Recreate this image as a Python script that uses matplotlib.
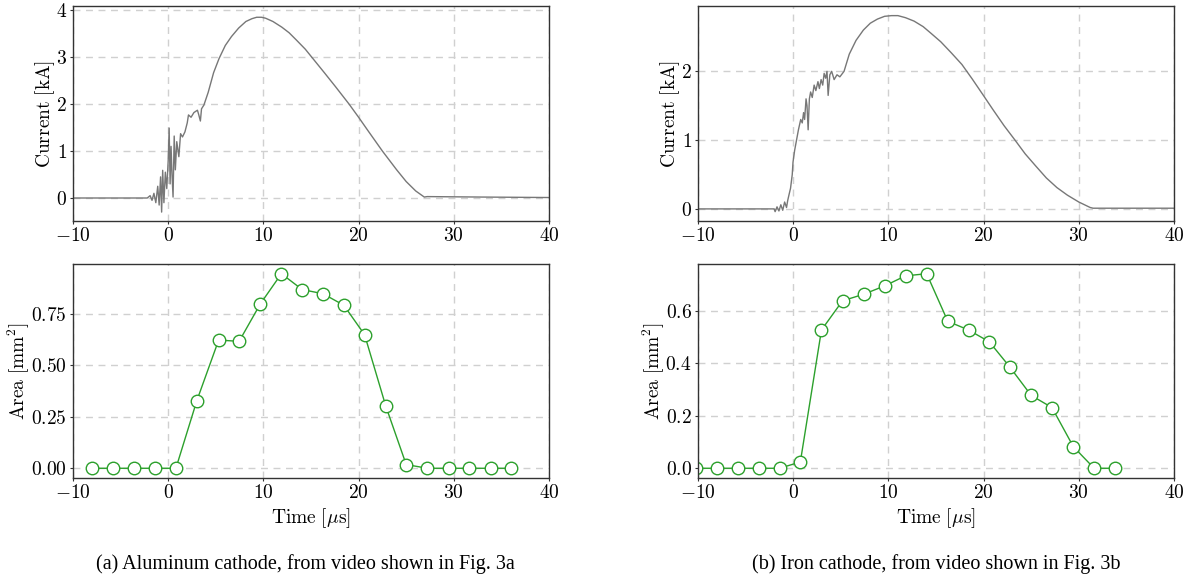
import matplotlib
matplotlib.use("Agg")
import matplotlib.pyplot as plt

plt.rcParams['font.family'] = 'serif'
plt.rcParams['font.serif'] = ['cmr10', 'DejaVu Serif']
plt.rcParams['mathtext.fontset'] = 'cm'
plt.rcParams['axes.formatter.use_mathtext'] = True
plt.rcParams['axes.unicode_minus'] = True

# ---------------- data ----------------
al_time = [-10, -2.2, -1.9, -1.7, -1.5, -1.3, -1.1, -0.95, -0.8, -0.69, -0.58, -0.45,
           -0.3, -0.15, 0.0, 0.1, 0.2, 0.3, 0.4, 0.51, 0.63, 0.75, 0.9, 1.12, 1.3, 1.5,
           1.76, 2.0, 2.13, 2.4, 2.7, 3.07, 3.2, 3.38, 3.5, 3.75, 4.2, 4.77, 5.34, 6.0,
           6.65, 7.4, 8.16, 8.8, 9.29, 9.8, 10.23, 11.0, 11.93, 12.7, 13.44, 14.4, 15.32,
           16.4, 17.58, 19.0, 20.0, 21.0, 22.5, 24.0, 25.0, 26.0, 26.9, 27.2, 33.0, 40.0]
al_current = [0, 0, 0.05, -0.05, 0.1, -0.1, 0.25, -0.15, 0.45, -0.3, 0.59, -0.1,
              0.55, 0.2, 0.8, 1.49, 0.3, 1.1, 0.5, 0.02, 1.32, 0.6, 1.2, 0.88, 1.37, 1.3,
              1.41, 1.6, 1.77, 1.72, 1.82, 1.87, 1.78, 1.64, 1.9, 1.98, 2.25, 2.67, 2.97, 3.25,
              3.44, 3.62, 3.76, 3.82, 3.85, 3.85, 3.83, 3.76, 3.64, 3.52, 3.37, 3.17, 2.94,
              2.67, 2.37, 2.0, 1.72, 1.43, 1.0, 0.6, 0.35, 0.15, 0.02, 0.03, 0.02, 0.01]

al_area_time = [-7.97, -5.78, -3.59, -1.37, 0.81, 3.0, 5.3, 7.45, 9.67, 11.89, 14.08,
                16.26, 18.45, 20.63, 22.86, 25.0, 27.23, 29.45, 31.64, 33.86, 36.04]
al_area = [0, 0, 0, 0, 0, 0.327, 0.622, 0.616, 0.797, 0.944, 0.867,
           0.847, 0.791, 0.648, 0.301, 0.018, 0, 0, 0, 0, 0]

fe_time = [-10, -2.0, -1.9, -1.7, -1.5, -1.3, -1.1, -0.9, -0.7, -0.58, -0.45, -0.28, -0.1,
           -0.02, 0.15, 0.35, 0.55, 0.79, 0.95, 1.09, 1.2, 1.35, 1.45, 1.57, 1.7, 1.83, 2.0,
           2.2, 2.38, 2.6, 2.75, 2.93, 3.1, 3.25, 3.41, 3.55, 3.67, 3.85, 4.04, 4.3, 4.6, 4.9,
           5.34, 5.89, 6.6, 7.37, 8.1, 8.85, 9.6, 10.33, 11.0, 11.8, 12.7, 13.65, 14.5, 15.5,
           16.6, 17.72, 18.8, 19.93, 21.0, 22.15, 23.3, 24.37, 25.5, 26.59, 27.7, 28.8, 30.0,
           31.2, 31.5, 40]
fe_current = [0, 0, -0.04, 0.03, -0.03, 0.06, -0.02, 0.1, 0.02, 0.12, 0.2, 0.3, 0.5,
              0.68, 0.85, 1.0, 1.15, 1.3, 1.25, 1.4, 1.3, 1.6, 1.5, 1.15, 1.6, 1.7, 1.62,
              1.8, 1.72, 1.85, 1.75, 1.88, 1.8, 1.97, 1.9, 2.0, 1.65, 1.95, 2.0, 1.88, 1.95, 1.92,
              2.0, 2.25, 2.45, 2.6, 2.7, 2.76, 2.8, 2.81, 2.81, 2.78, 2.73, 2.65, 2.55, 2.43,
              2.27, 2.1, 1.89, 1.66, 1.44, 1.21, 1.0, 0.8, 0.62, 0.45, 0.31, 0.2, 0.1,
              0.02, 0.01, 0.01]

fe_area_time = [-10.17, -7.97, -5.79, -3.61, -1.43, 0.75, 2.97, 5.18, 7.41, 9.62, 11.8,
                14.02, 16.24, 18.42, 20.6, 22.78, 25.0, 27.18, 29.43, 31.61, 33.79]
fe_area = [0, 0, 0, 0, 0, 0.024, 0.526, 0.637, 0.662, 0.694, 0.732,
           0.740, 0.559, 0.526, 0.481, 0.384, 0.277, 0.231, 0.082, 0, 0]

xticks = [-10, 0, 10, 20, 30, 40]
captions = ["(a) Aluminum cathode, from video shown in Fig. 3a",
            "(b) Iron cathode, from video shown in Fig. 3b"]

# ---------------- figure ----------------
W, H = 1189, 582
fig = plt.figure(figsize=(W / 100, H / 100), dpi=100)


def box(l, r, t, b):
    return [l / W, 1 - b / H, (r - l) / W, (b - t) / H]


ax_a1 = fig.add_axes(box(73, 549, 6, 221))
ax_a2 = fig.add_axes(box(73, 549, 264, 478))
ax_b1 = fig.add_axes(box(698, 1174, 6, 221))
ax_b2 = fig.add_axes(box(698, 1174, 264, 478))

trace_color = '#777777'
green = '#2ca02c'
FS = 14


def style(ax):
    ax.set_xlim(-10, 40)
    ax.set_xticks(xticks)
    ax.grid(True, linestyle=(0, (5, 4)), color='#d0d0d0', linewidth=1.0)
    ax.set_axisbelow(True)
    ax.tick_params(labelsize=FS, length=2.5, width=0.8, color='#333333', pad=2)
    for s in ax.spines.values():
        s.set_color('#333333')
        s.set_linewidth(1.0)


for ax, t, c, yl, yt in [(ax_a1, al_time, al_current, (-0.49, 4.09), [0, 1, 2, 3, 4]),
                         (ax_b1, fe_time, fe_current, (-0.176, 2.95), [0, 1, 2])]:
    ax.plot(t, c, color=trace_color, lw=1.0)
    style(ax)
    ax.set_ylim(*yl)
    ax.set_yticks(yt)
    ax.set_ylabel(r'$\mathrm{Current\ [kA]}$', fontsize=FS, labelpad=-1)

for ax, t, a, yt, fmt in [(ax_a2, al_area_time, al_area, [0, 0.25, 0.5, 0.75], '%.2f'),
                          (ax_b2, fe_area_time, fe_area, [0, 0.2, 0.4, 0.6], '%.1f')]:
    ax.plot(t, a, color=green, lw=1.0, marker='o', markersize=9,
            markerfacecolor='white', markeredgecolor=green, markeredgewidth=1.0)
    style(ax)
    ax.set_yticks(yt)
    ax.set_yticklabels(['$' + (fmt % v) + '$' for v in yt])
    ax.set_ylabel(r'$\mathrm{Area\ [mm^2]}$', fontsize=FS, labelpad=-1)
    ax.set_xlabel(r'$\mathrm{Time\ [}\mu\mathrm{s]}$', fontsize=FS, labelpad=3)

fig.text(305 / W, 1 - 569 / H, captions[0], family='Liberation Serif', fontsize=14.5,
         ha='center', va='baseline')
fig.text(936 / W, 1 - 569 / H, captions[1], family='Liberation Serif', fontsize=14.5,
         ha='center', va='baseline')

fig.savefig('out.png', dpi=100)
